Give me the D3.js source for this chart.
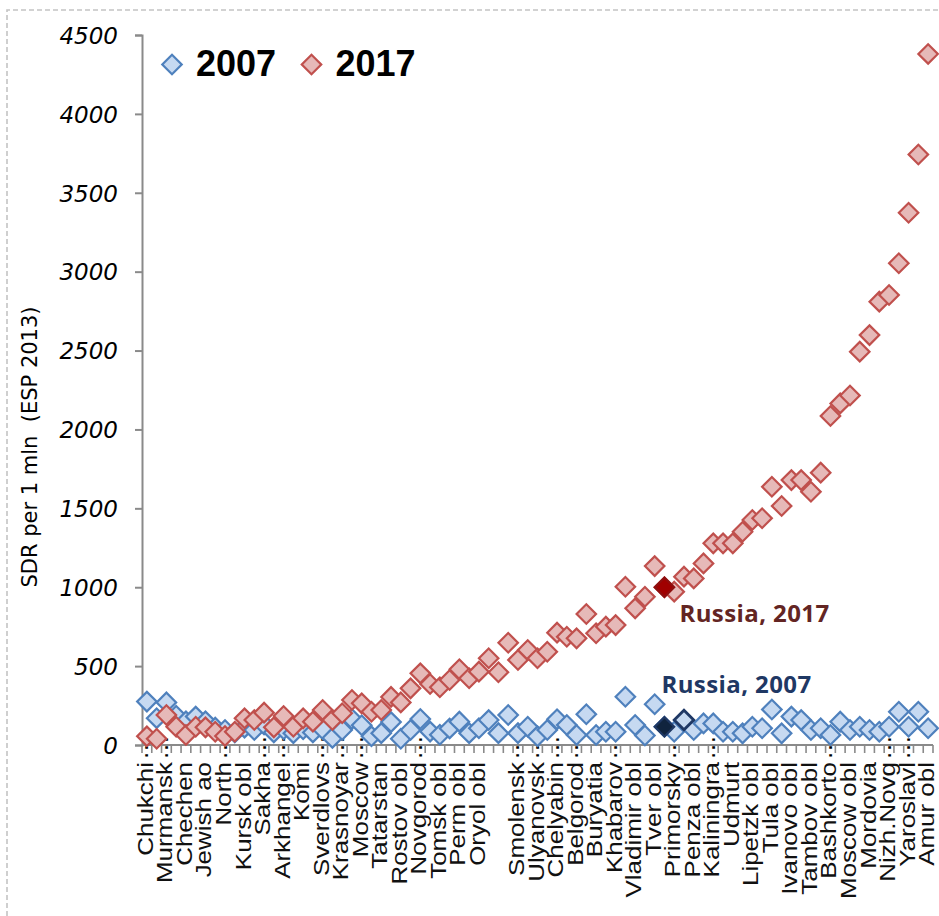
<!DOCTYPE html>
<html>
<head>
<meta charset="utf-8">
<script src="https://cdn.jsdelivr.net/npm/d3@7"></script>
<style>
  body { margin: 0; background: #fff; }
  svg { display: block; }
</style>
</head>
<body>
<svg id="chart" width="939" height="916"></svg>
<script>
// Standardised death rate per 1 mln (ESP 2013), regions ordered by the 2017 value
const values2007 = [275,170,270,185,150,180,150,110,95,80,
  110,95,130,80,100,75,100,80,100,45,
  95,165,125,55,75,145,40,95,165,85,
  65,105,148,75,106,158,75,190,75,116,
  55,95,163,127,63,195,63,84,84,306,
  127,60,258,116,84,158,95,137,137,84,
  84,74,116,106,225,74,180,158,95,106,
  63,148,95,116,95,84,116,211,116,211,
  106];
const values2017 = [55,40,190,116,63,116,112,84,57,84,
  169,158,205,112,184,116,169,148,222,158,
  201,285,264,211,222,305,270,359,454,387,
  366,412,480,423,465,550,461,648,539,602,
  550,591,712,686,676,830,708,750,760,1003,
  866,940,1134,1000,972,1067,1056,1151,1278,1278,
  1278,1352,1426,1437,1637,1515,1679,1679,1605,1726,
  2085,2165,2215,2493,2598,2810,2852,3053,3373,3743,
  4380];
// Category labels shown on every second region
const tickLabels = ["Chukchi", "Murmansk", "Chechen", "Jewish ao", "North", "Kursk obl",
  "Sakha", "Arkhangel", "Komi", "Sverdlovs", "Krasnoyar", "Moscow", "Tatarstan",
  "Rostov obl", "Novgorod", "Tomsk obl", "Perm obl", "Oryol obl", "", "Smolensk",
  "Ulyanovsk", "Chelyabin", "Belgorod", "Buryatia", "Khabarov", "Vladimir obl",
  "Tver obl", "Primorsky", "Penza obl", "Kaliningra", "Udmurt", "Lipetzk obl",
  "Tula obl", "Ivanovo obl", "Tambov obl", "Bashkorto", "Moscow obl", "Mordovia",
  "Nizh.Novg", "Yaroslavl", "Amur obl"];
// Labels cut short in the axis (drawn with a trailing ellipsis)
const truncatedLabels = ["Chukchi", "Murmansk", "North", "Sakha", "Arkhangel", "Sverdlovs",
  "Krasnoyar", "Moscow", "Novgorod", "Smolensk", "Ulyanovsk", "Chelyabin", "Belgorod",
  "Khabarov", "Primorsky", "Kaliningra", "Bashkorto", "Nizh.Novg", "Yaroslavl"];
const yTicks = [0, 500, 1000, 1500, 2000, 2500, 3000, 3500, 4000, 4500];
const russiaIndex = 53;        // Russia as a whole
const russia2007Outline = 55;  // 2007 marker outlined in navy
const seriesNames = ["2007", "2017"];

const svg = d3.select("#chart");
const margin = { left: 142, right: 933, top: 35, bottom: 745 };

const x = d3.scaleBand()
  .domain(d3.range(values2017.length))
  .range([margin.left, margin.right])
  .paddingInner(0).paddingOuter(0);
const cx = i => x(i) + x.bandwidth() / 2;
const y = d3.scaleLinear().domain([0, 4500]).range([margin.bottom, margin.top]);

const axisGrey = "#8a8a8a";
const blue = { fill: "#c6d9f1", stroke: "#4f81bd" };
const red = { fill: "#e6b9b8", stroke: "#c0504d" };

// dashed frame of the chart area
svg.append("path")
  .attr("d", "M7,940 L7,10 L960,10")
  .attr("fill", "none")
  .attr("stroke", "#c4c4c4")
  .attr("stroke-width", 1.6)
  .attr("stroke-dasharray", "5,3");

// y axis
const yAxis = d3.axisLeft(y).tickValues(yTicks).tickSize(7).tickPadding(17)
  .tickFormat(d3.format("d"));
const gy = svg.append("g").attr("transform", `translate(${margin.left},0)`).call(yAxis);
gy.select(".domain").attr("stroke", axisGrey).attr("stroke-width", 2);
gy.selectAll(".tick line").attr("stroke", axisGrey).attr("stroke-width", 2);
gy.selectAll(".tick text")
  .attr("font-family", "DejaVu Sans")
  .attr("font-style", "italic")
  .attr("font-size", 23)
  .attr("fill", "#000")
  .attr("dy", "0.36em");

// y axis title
svg.append("text")
  .attr("transform", "translate(37,447) rotate(-90)")
  .attr("text-anchor", "middle")
  .attr("font-family", "DejaVu Sans")
  .attr("font-size", 21)
  .attr("fill", "#000")
  .style("white-space", "pre")
  .text("SDR per 1 mln  (ESP 2013)");

// x axis line and category tick marks
const gx = svg.append("g");
gx.append("line")
  .attr("x1", margin.left).attr("x2", margin.right)
  .attr("y1", margin.bottom).attr("y2", margin.bottom)
  .attr("stroke", axisGrey).attr("stroke-width", 2);
gx.selectAll("line.tick")
  .data(d3.range(values2017.length + 1))
  .join("line")
  .attr("class", "tick")
  .attr("x1", i => margin.left + i * x.bandwidth())
  .attr("x2", i => margin.left + i * x.bandwidth())
  .attr("y1", margin.bottom).attr("y2", margin.bottom + 8)
  .attr("stroke", axisGrey).attr("stroke-width", 1.6);

// category labels on every second region
const labelData = tickLabels.map((name, k) => ({ name, i: k * 2 }));
const lab = gx.selectAll("g.lab").data(labelData).join("g").attr("class", "lab");
lab.append("text")
  .attr("transform", d => `translate(${cx(d.i) + 6},762) rotate(-90) scale(1.18,1)`)
  .attr("text-anchor", "end")
  .attr("font-family", "Liberation Sans, Arial, sans-serif")
  .attr("font-size", 22)
  .attr("fill", "#111")
  .text(d => d.name);
lab.filter(d => truncatedLabels.includes(d.name))
  .append("text")
  .attr("transform", d => `translate(${cx(d.i) + 1.5},760) rotate(-90)`)
  .attr("text-anchor", "start")
  .attr("font-family", "Liberation Sans, Arial, sans-serif")
  .attr("font-size", 25)
  .attr("fill", "#000")
  .text("\u2026");

// diamond markers
const diamond = d3.symbol().type(d3.symbolSquare).size(190);
function drawSeries(values, style, cls) {
  svg.append("g").attr("class", cls)
    .selectAll("path")
    .data(values.map((v, i) => ({ v, i })))
    .join("path")
    .attr("d", diamond)
    .attr("transform", d => `translate(${cx(d.i)},${y(d.v)}) rotate(45)`)
    .attr("fill", style.fill)
    .attr("stroke", style.stroke)
    .attr("stroke-width", 2.2);
}
drawSeries(values2007, blue, "s2007");
drawSeries(values2017, red, "s2017");

// highlighted Russia markers
const hi = svg.append("g").attr("class", "russia");
hi.append("path").attr("d", diamond)
  .attr("transform", `translate(${cx(russia2007Outline)},${y(values2007[russia2007Outline])}) rotate(45)`)
  .attr("fill", blue.fill).attr("stroke", "#1f3864").attr("stroke-width", 2.8);
hi.append("path").attr("d", diamond)
  .attr("transform", `translate(${cx(russiaIndex)},${y(values2007[russiaIndex])}) rotate(45)`)
  .attr("fill", "#10243e").attr("stroke", "#1f3864").attr("stroke-width", 2.2);
hi.append("path").attr("d", diamond)
  .attr("transform", `translate(${cx(russiaIndex)},${y(values2017[russiaIndex])}) rotate(45)`)
  .attr("fill", "#a00000").attr("stroke", "#8e0f0f").attr("stroke-width", 2.2);

// annotations
svg.append("text")
  .attr("x", cx(russiaIndex) + 15).attr("y", y(values2017[russiaIndex]) + 35)
  .attr("font-family", "Open Sans, sans-serif").attr("font-weight", 700)
  .attr("font-size", 24).attr("letter-spacing", 0.4).attr("fill", "#632523")
  .text("Russia, 2017");
svg.append("text")
  .attr("x", cx(russiaIndex) - 3).attr("y", y(values2007[russiaIndex]) - 34)
  .attr("font-family", "Open Sans, sans-serif").attr("font-weight", 700)
  .attr("font-size", 24).attr("letter-spacing", 0.4).attr("fill", "#1f3864")
  .text("Russia, 2007");

// legend
const legend = svg.append("g").attr("class", "legend");
const legendItems = [
  { name: seriesNames[0], style: blue, x: 172 },
  { name: seriesNames[1], style: red, x: 311.5 }
];
legendItems.forEach(item => {
  legend.append("path").attr("d", diamond)
    .attr("transform", `translate(${item.x},64.5) rotate(45)`)
    .attr("fill", item.style.fill).attr("stroke", item.style.stroke).attr("stroke-width", 2.2);
  legend.append("text")
    .attr("x", item.x + 24).attr("y", 76)
    .attr("font-family", "Liberation Sans, Arial, sans-serif")
    .attr("font-weight", 700).attr("font-size", 36).attr("fill", "#000")
    .text(item.name);
});
</script>
</body>
</html>
